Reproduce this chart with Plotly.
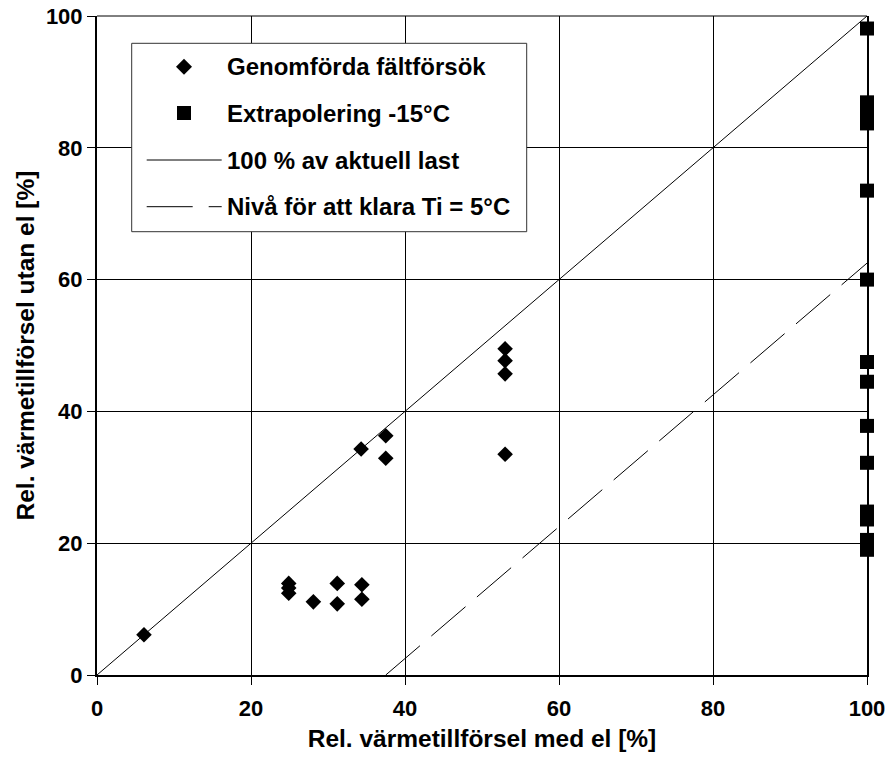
import plotly.graph_objects as go

# ---- data ----
ticks = [0, 20, 40, 60, 80, 100]

field_x = [6.1, 24.9, 24.9, 24.9, 28.1, 31.2, 31.2, 34.4, 34.4, 34.3, 37.5, 37.5, 53.0, 53.0, 53.0, 53.0]
field_y = [6.1, 13.9, 13.2, 12.4, 11.1, 13.9, 10.8, 13.7, 11.5, 34.3, 36.3, 32.9, 49.5, 47.7, 45.7, 33.5]

extrap_x = [100] * 14
extrap_y = [98.1, 86.9, 85.3, 83.7, 73.5, 60.0, 47.5, 44.5, 37.8, 32.2, 24.8, 23.6, 20.5, 19.0]

full_x = [0, 100]
full_y = [0, 100]

level_x = [37.5, 100]
level_y = [0, 62.5]

names = ["Genomförda fältförsök", "Extrapolering -15°C",
         "100 % av aktuell last", "Nivå för att klara Ti = 5°C"]

# ---- layout geometry (pixels, page coords; body margin removed below) ----
W, H = 891, 757
PX0, PX1, PY0, PY1 = 97, 867, 16, 675      # plot area in page pixels
ML, MT = PX0, PY0
PW, PH = PX1 - PX0, PY1 - PY0
MR, MB = W - ML - PW, H - MT - PH

def px(xp):
    return (xp - PX0) / PW

def py(yp):
    return 1 - (yp - PY0) / PH

FONT = "Liberation Sans, Arial, sans-serif"
DASH = "45px,15px"

fig = go.Figure()

fig.add_trace(go.Scatter(
    x=full_x, y=full_y, mode="lines", name=names[2],
    line=dict(color="black", width=1), showlegend=False, hoverinfo="skip"))
fig.add_trace(go.Scatter(
    x=level_x, y=level_y, mode="lines", name=names[3],
    line=dict(color="black", width=1, dash=DASH), showlegend=False, hoverinfo="skip"))
fig.add_trace(go.Scatter(
    x=field_x, y=field_y, mode="markers", name=names[0],
    marker=dict(symbol="diamond", size=12, color="black"), showlegend=False,
    cliponaxis=False))
fig.add_trace(go.Scatter(
    x=extrap_x, y=extrap_y, mode="markers", name=names[1],
    marker=dict(symbol="square", size=14, color="black"), showlegend=False,
    cliponaxis=False))

# ---- manual legend ----
shapes = []
annotations = []
box = dict(x0=131.7, y0=43.3, x1=526.7, y1=231.7)
shapes.append(dict(type="rect", xref="paper", yref="paper",
                   x0=px(box["x0"]), x1=px(box["x1"]), y0=py(box["y0"]), y1=py(box["y1"]),
                   line=dict(color="#333", width=1), fillcolor="white", layer="above"))
rows = [66.7, 113.0, 160.0, 206.7]
mx = 184
diamond = "M0,8 L8,0 L0,-8 L-8,0 Z"
square = "M-7,-7 L7,-7 L7,7 L-7,7 Z"
for path, yy in [(diamond, rows[0]), (square, rows[1])]:
    shapes.append(dict(type="path", xref="paper", yref="paper",
                       xsizemode="pixel", ysizemode="pixel",
                       xanchor=px(mx), yanchor=py(yy), path=path,
                       fillcolor="black", line=dict(width=0), layer="above"))
shapes.append(dict(type="line", xref="paper", yref="paper",
                   x0=px(146.7), x1=px(221.7), y0=py(rows[2]), y1=py(rows[2]),
                   line=dict(color="black", width=1), layer="above"))
shapes.append(dict(type="line", xref="paper", yref="paper",
                   x0=px(146.7), x1=px(221.7), y0=py(rows[3]), y1=py(rows[3]),
                   line=dict(color="black", width=1, dash="46px,16px"), layer="above"))
for name, yy in zip(names, rows):
    annotations.append(dict(text=name, xref="paper", yref="paper",
                            x=px(225), y=py(yy), xanchor="left", yanchor="middle",
                            showarrow=False,
                            font=dict(family=FONT, size=24, color="black", weight="bold")))

# top border line of plot area
shapes.append(dict(type="line", xref="paper", yref="paper", x0=0, x1=1, y0=1, y1=1,
                   line=dict(color="black", width=1)))

axis_common = dict(
    range=[0, 100], tickvals=ticks, ticktext=[str(t) for t in ticks],
    showgrid=True, gridcolor="black", gridwidth=1,
    showline=True, linecolor="black", linewidth=2,
    ticks="outside", ticklen=8, tickcolor="black", tickwidth=1,
    zeroline=False, fixedrange=True, ticklabeloverflow="allow",
    tickfont=dict(family=FONT, size=22, color="black", weight="bold"),
)

fig.update_layout(
    width=W, height=H,
    margin=dict(l=ML, r=MR, t=MT, b=MB, autoexpand=False),
    paper_bgcolor="white", plot_bgcolor="white",
    showlegend=False,
    xaxis=dict(**axis_common, ticklabelstandoff=5,
               title=dict(text="Rel. värmetillförsel med el [%]", standoff=9,
                          font=dict(family=FONT, size=24.5, color="black", weight="bold"))),
    yaxis=dict(**axis_common, mirror=True,
               title=dict(text="Rel. värmetillförsel utan el [%]", standoff=4,
                          font=dict(family=FONT, size=24.5, color="black", weight="bold"))),
    shapes=shapes, annotations=annotations,
)

fig.write_html("out.html",
               config={"displayModeBar": False},
               post_script="document.body.style.margin='0';document.body.style.overflow='hidden';")
